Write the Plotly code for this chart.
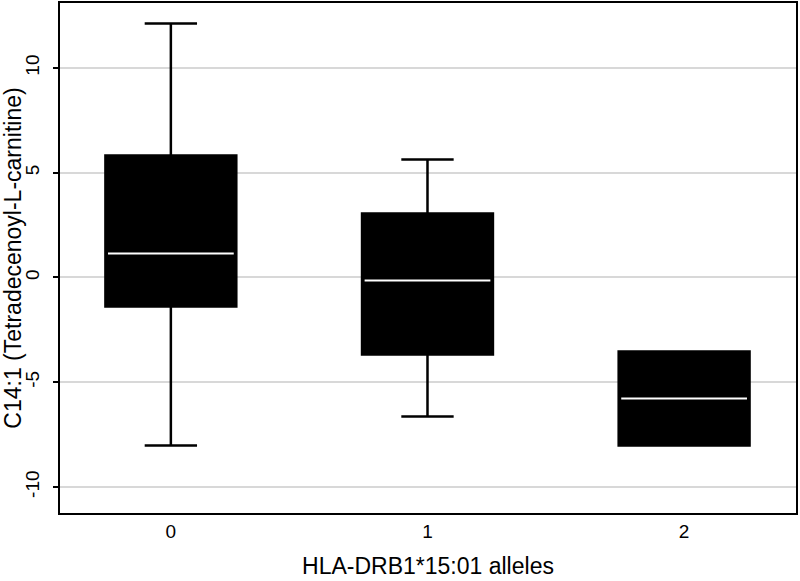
import plotly.graph_objects as go

categories = [0, 1, 2]
q1 = [-1.38, -3.68, -8.02]
median = [1.15, -0.14, -5.78]
q3 = [5.82, 3.05, -3.53]
lower = [-8.02, -6.63, -8.02]
upper = [12.12, 5.63, -3.53]

y_ticks = [-10, -5, 0, 5, 10]
x_ticks = [0, 1, 2]

fig = go.Figure()
fig.add_trace(go.Box(
    x=categories, q1=q1, median=median, q3=q3,
    lowerfence=lower, upperfence=upper,
    fillcolor="black", line=dict(color="black", width=2.5),
    width=0.51, whiskerwidth=0.4, boxpoints=False,
    hoverinfo="skip", showlegend=False,
))
# white median line overlay
fig.add_trace(go.Box(
    x=categories, q1=median, median=median, q3=median,
    lowerfence=median, upperfence=median,
    fillcolor="white", line=dict(color="white", width=2),
    width=0.49, whiskerwidth=0, boxpoints=False,
    hoverinfo="skip", showlegend=False,
))

font = "Liberation Sans"
fig.update_layout(
    width=800, height=581,
    margin=dict(l=60, r=4, t=3, b=68),
    paper_bgcolor="white", plot_bgcolor="white",
    boxmode="overlay",
    font=dict(family=font, size=19, color="black"),
    xaxis=dict(
        range=[-0.432, 2.436], tickvals=x_ticks, ticktext=[str(t) for t in x_ticks],
        showgrid=False, zeroline=False, automargin=False,
        showline=True, mirror=True, linecolor="black", linewidth=1.5,
        ticks="", ticklabelstandoff=0,
        tickfont=dict(family=font, size=19),
        title=dict(text="HLA-DRB1*15:01 alleles", font=dict(family=font, size=23), standoff=17),
    ),
    yaxis=dict(
        range=[-11.24, 13.1], tickvals=y_ticks, ticktext=[str(t) for t in y_ticks],
        tickangle=-90, automargin=False,
        showgrid=True, gridcolor="#d8d8d8", gridwidth=2, zeroline=False,
        showline=True, mirror=True, linecolor="black", linewidth=1.5,
        ticks="outside", ticklen=5, tickwidth=1.5, tickcolor="black",
        ticklabelstandoff=7,
        tickfont=dict(family=font, size=19),
        title=dict(text="C14:1 (Tetradecenoyl-L-carnitine)", font=dict(family=font, size=23), standoff=2),
    ),
)
fig.write_html("out.html", config={"displayModeBar": False},
               post_script="document.body.style.margin='0';document.body.style.padding='0';")
